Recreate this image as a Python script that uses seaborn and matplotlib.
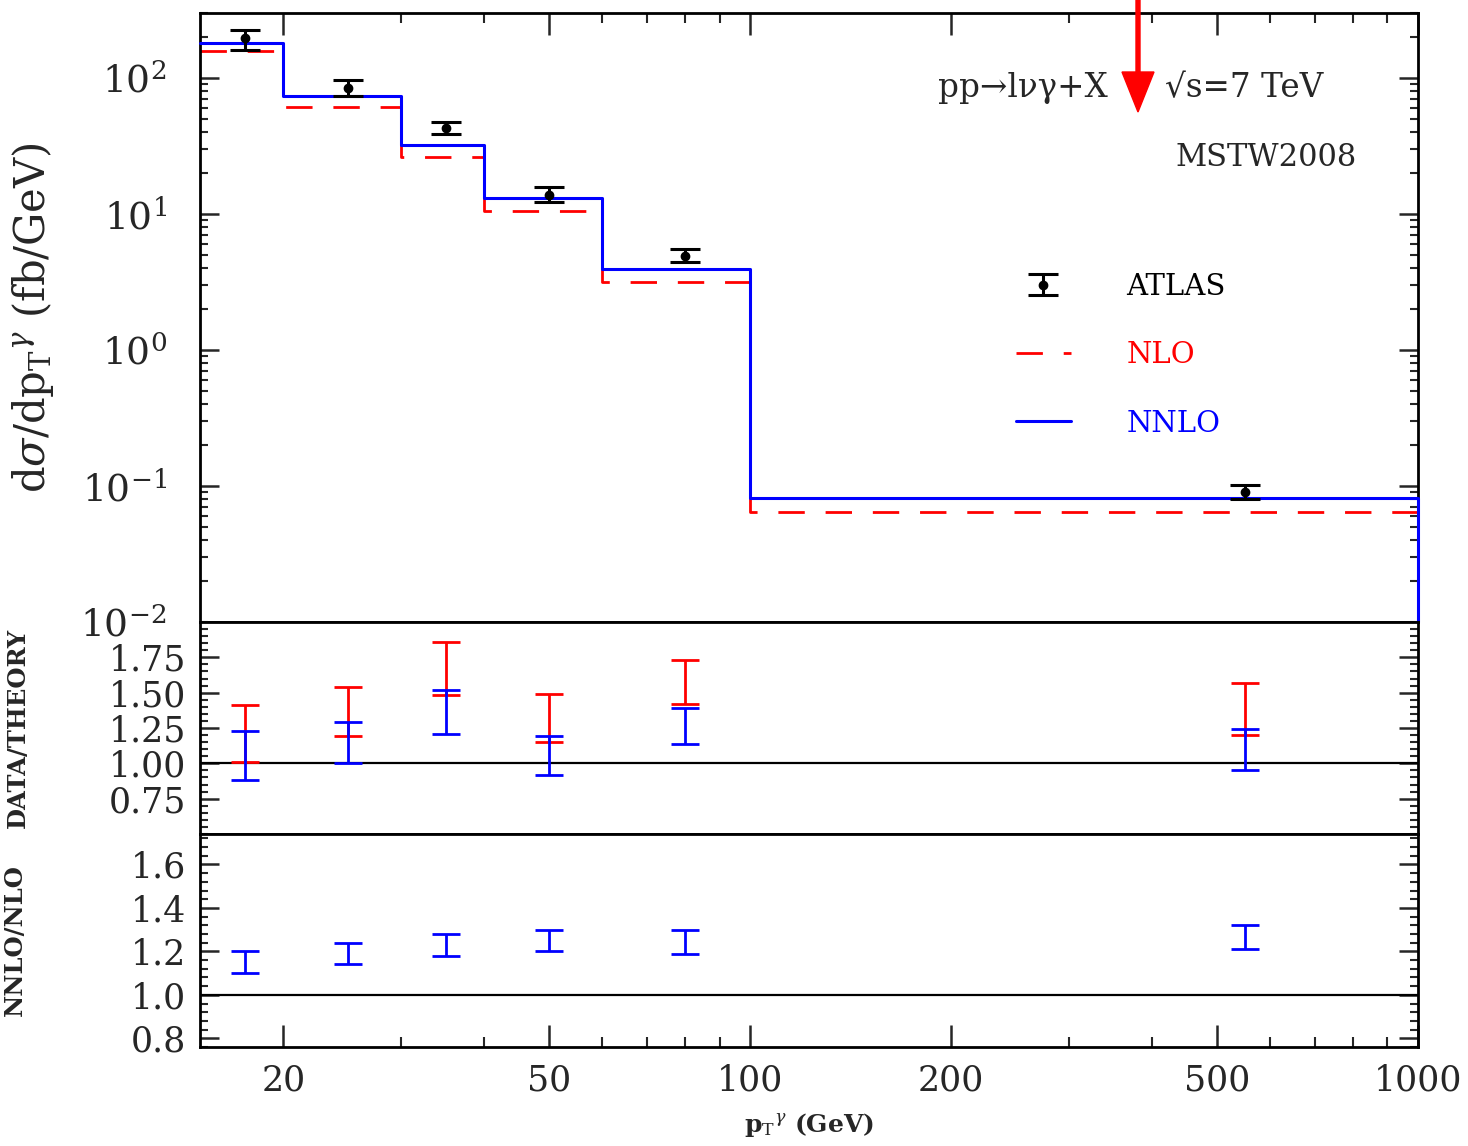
import numpy as np
import pandas as pd
import matplotlib
matplotlib.use("Agg")
import matplotlib.pyplot as plt
import seaborn as sns
from matplotlib.ticker import (FixedLocator, NullFormatter, LogLocator,
                               MultipleLocator, FuncFormatter)
from matplotlib.lines import Line2D
from matplotlib.patches import FancyArrow
from matplotlib.transforms import IdentityTransform
from matplotlib.container import ErrorbarContainer
from matplotlib.legend_handler import HandlerErrorbar

# ---- binning in photon transverse momentum (GeV) ----
pt_edges = [15, 20, 30, 40, 60, 100, 1000]
pt_centers = [17.5, 25, 35, 50, 80, 550]

# ---- differential cross sections (fb/GeV) ----
atlas_xsec = [195, 83.6, 42.8, 13.8, 4.92, 0.090]
atlas_low = [160, 73, 38.8, 12.3, 4.46, 0.080]
atlas_high = [225, 97, 47.8, 15.9, 5.52, 0.101]
nlo_xsec = [158, 61.5, 26.3, 10.5, 3.16, 0.0641]
nnlo_xsec = [182, 73, 31.9, 13.2, 3.95, 0.0813]

# ---- ratio bands (lower, upper) ----
data_over_nlo_low = [1.01, 1.19, 1.48, 1.15, 1.42, 1.20]
data_over_nlo_high = [1.41, 1.54, 1.86, 1.49, 1.73, 1.57]
data_over_nnlo_low = [0.88, 1.00, 1.21, 0.92, 1.14, 0.95]
data_over_nnlo_high = [1.23, 1.29, 1.52, 1.19, 1.39, 1.24]
nnlo_over_nlo_low = [1.10, 1.14, 1.18, 1.20, 1.19, 1.21]
nnlo_over_nlo_high = [1.20, 1.24, 1.28, 1.30, 1.30, 1.32]

RED = "#ff0000"
BLUE = "#0000ff"

sns.set_theme(style="ticks")
plt.rcParams["font.family"] = ["DejaVu Serif", "DejaVu Sans"]
plt.rcParams["mathtext.fontset"] = "dejavuserif"
plt.rcParams["axes.linewidth"] = 2.0
plt.rcParams["xtick.direction"] = "in"
plt.rcParams["ytick.direction"] = "in"

W, H = 1468, 1146
fig = plt.figure(figsize=(W / 100, H / 100), dpi=100)
left, right = 200 / W, 1418 / W


def add_axes(ytop, ybot):
    return fig.add_axes([left, 1 - ybot / H, right - left, (ybot - ytop) / H])


ax_top = add_axes(13, 622)
ax_mid = add_axes(622, 834)
ax_bot = add_axes(834, 1047)

TICK_FS = 25
YMIN_TOP = 0.01

for ax in (ax_top, ax_mid, ax_bot):
    ax.set_xscale("log")
    ax.set_xlim(15, 1000)
    ax.xaxis.set_major_locator(FixedLocator([20, 50, 100, 200, 500, 1000]))
    ax.xaxis.set_minor_locator(FixedLocator([30, 40, 60, 70, 80, 90,
                                             300, 400, 600, 700, 800, 900]))
    ax.xaxis.set_minor_formatter(NullFormatter())
    ax.tick_params(axis="y", which="major", length=14, width=1.8,
                   left=True, right=True, labelsize=TICK_FS, pad=10)
    ax.tick_params(axis="y", which="minor", length=6, width=1.5,
                   left=True, right=True)
    for s in ax.spines.values():
        s.set_linewidth(2.0)
        s.set_color("black")

# ---------------- top panel: cross sections ----------------
ax_top.set_yscale("log")
ax_top.set_ylim(YMIN_TOP, 300)
ax_top.yaxis.set_major_locator(LogLocator(base=10, numticks=10))
ax_top.yaxis.set_minor_locator(LogLocator(base=10, subs=np.arange(2, 10), numticks=20))
ax_top.yaxis.set_minor_formatter(NullFormatter())
ax_top.tick_params(axis="y", which="major", labelsize=27, pad=24)
ax_top.tick_params(axis="x", which="major", top=True, bottom=False,
                   labelbottom=False, length=16, width=1.8)
ax_top.tick_params(axis="x", which="minor", top=True, bottom=False, length=7, width=1.5)

# step outlines for the theory predictions
step_x = pt_edges + [pt_edges[-1]]
nlo_steps = pd.DataFrame({"pt": step_x, "xsec": nlo_xsec + [nlo_xsec[-1], YMIN_TOP]})
nnlo_steps = pd.DataFrame({"pt": step_x, "xsec": nnlo_xsec + [nnlo_xsec[-1], YMIN_TOP]})

sns.lineplot(data=nlo_steps, x="pt", y="xsec", estimator=None, sort=False,
             drawstyle="steps-post", color=RED, linewidth=2.0,
             linestyle=(0, (9.5, 7.5)), ax=ax_top)
sns.lineplot(data=nnlo_steps, x="pt", y="xsec", estimator=None, sort=False,
             drawstyle="steps-post", color=BLUE, linewidth=2.2, ax=ax_top,
             clip_on=False, zorder=4)

atlas_err = np.array([np.subtract(atlas_xsec, atlas_low),
                      np.subtract(atlas_high, atlas_xsec)])
atlas_cont = ax_top.errorbar(pt_centers, atlas_xsec, yerr=atlas_err, fmt="o",
                             color="black", markersize=6, elinewidth=2.2,
                             capsize=11, capthick=2.2, zorder=5)

ax_top.set_ylabel(r"d$\sigma$/dp$_{\mathrm{T}}$$^{\gamma}$ (fb/GeV)",
                  fontsize=30)
ax_top.yaxis.set_label_coords(-0.118, 0.5)

fig.text(938 / W, 1 - 88 / H, "pp→lνγ+X", fontsize=23.5, va="center", ha="left")
fig.text(1165 / W, 1 - 88 / H, "√s=7 TeV", fontsize=23.5, va="center", ha="left")
fig.text(1357 / W, 1 - 158 / H, "MSTW2008", fontsize=22, va="center", ha="right")

nlo_handle = Line2D([], [], color=RED, linewidth=2.0, linestyle=(0, (9.5, 7.5)))
nnlo_handle = Line2D([], [], color=BLUE, linewidth=2.2)
leg = ax_top.legend([atlas_cont, nlo_handle, nnlo_handle], ["ATLAS", "NLO", "NNLO"],
                    loc="upper left", bbox_to_anchor=(0.66, 0.592),
                    frameon=False, fontsize=21, handlelength=1.9,
                    handletextpad=1.9, labelspacing=1.38, borderaxespad=0,
                    handler_map={ErrorbarContainer: HandlerErrorbar(xerr_size=0.5,
                                                                    yerr_size=0.36)})
for txt, col in zip(leg.get_texts(), ["black", RED, BLUE]):
    txt.set_color(col)

# ---------------- middle panel: data / theory ----------------
ax_mid.set_ylim(0.5, 2.0)
ax_mid.yaxis.set_major_locator(FixedLocator([0.75, 1.0, 1.25, 1.5, 1.75]))
ax_mid.yaxis.set_major_formatter(FuncFormatter(lambda v, p: f"{v:.2f}"))
ax_mid.yaxis.set_minor_locator(MultipleLocator(0.05))
ax_mid.tick_params(axis="x", which="both", bottom=False, top=False, labelbottom=False)
ax_mid.axhline(1.0, color="black", linewidth=1.6, zorder=1)


def band(ax, low, high, color):
    low = np.asarray(low)
    high = np.asarray(high)
    mid = 0.5 * (low + high)
    ax.errorbar(pt_centers, mid, yerr=[mid - low, high - mid], fmt="none",
                ecolor=color, elinewidth=2.0, capsize=10, capthick=2.0, zorder=3)


band(ax_mid, data_over_nlo_low, data_over_nlo_high, RED)
band(ax_mid, data_over_nnlo_low, data_over_nnlo_high, BLUE)
ax_mid.set_ylabel("DATA/THEORY", fontsize=17.5, fontweight="bold")
ax_mid.yaxis.set_label_coords(-0.14, 0.5)

# ---------------- bottom panel: NNLO / NLO ----------------
ax_bot.set_ylim(0.76, 1.74)
ax_bot.yaxis.set_major_locator(FixedLocator([0.8, 1.0, 1.2, 1.4, 1.6]))
ax_bot.yaxis.set_major_formatter(FuncFormatter(lambda v, p: f"{v:.1f}"))
ax_bot.yaxis.set_minor_locator(MultipleLocator(0.04))
ax_bot.xaxis.set_major_formatter(FuncFormatter(lambda v, p: f"{v:g}"))
ax_bot.tick_params(axis="x", which="major", bottom=True, top=False,
                   length=16, width=1.8, labelsize=TICK_FS, pad=12)
ax_bot.tick_params(axis="x", which="minor", bottom=True, top=False, length=7, width=1.5)
ax_bot.axhline(1.0, color="black", linewidth=1.6, zorder=1)
band(ax_bot, nnlo_over_nlo_low, nnlo_over_nlo_high, BLUE)
ax_bot.set_ylabel("NNLO/NLO", fontsize=17.5, fontweight="bold")
ax_bot.yaxis.set_label_coords(-0.142, 0.5)
ax_bot.set_xlabel(r"p$_{\mathrm{T}}$$^{\gamma}$ (GeV)", fontsize=18, fontweight="bold")
ax_bot.xaxis.set_label_coords(0.5, -0.30)

# ---------------- marker arrow at the top ----------------
arrow = FancyArrow(1138, H + 2, 0, -114, width=4, head_width=32, head_length=40,
                   length_includes_head=True, color=RED, transform=IdentityTransform())
fig.add_artist(arrow)

fig.savefig("out.png", dpi=100)
